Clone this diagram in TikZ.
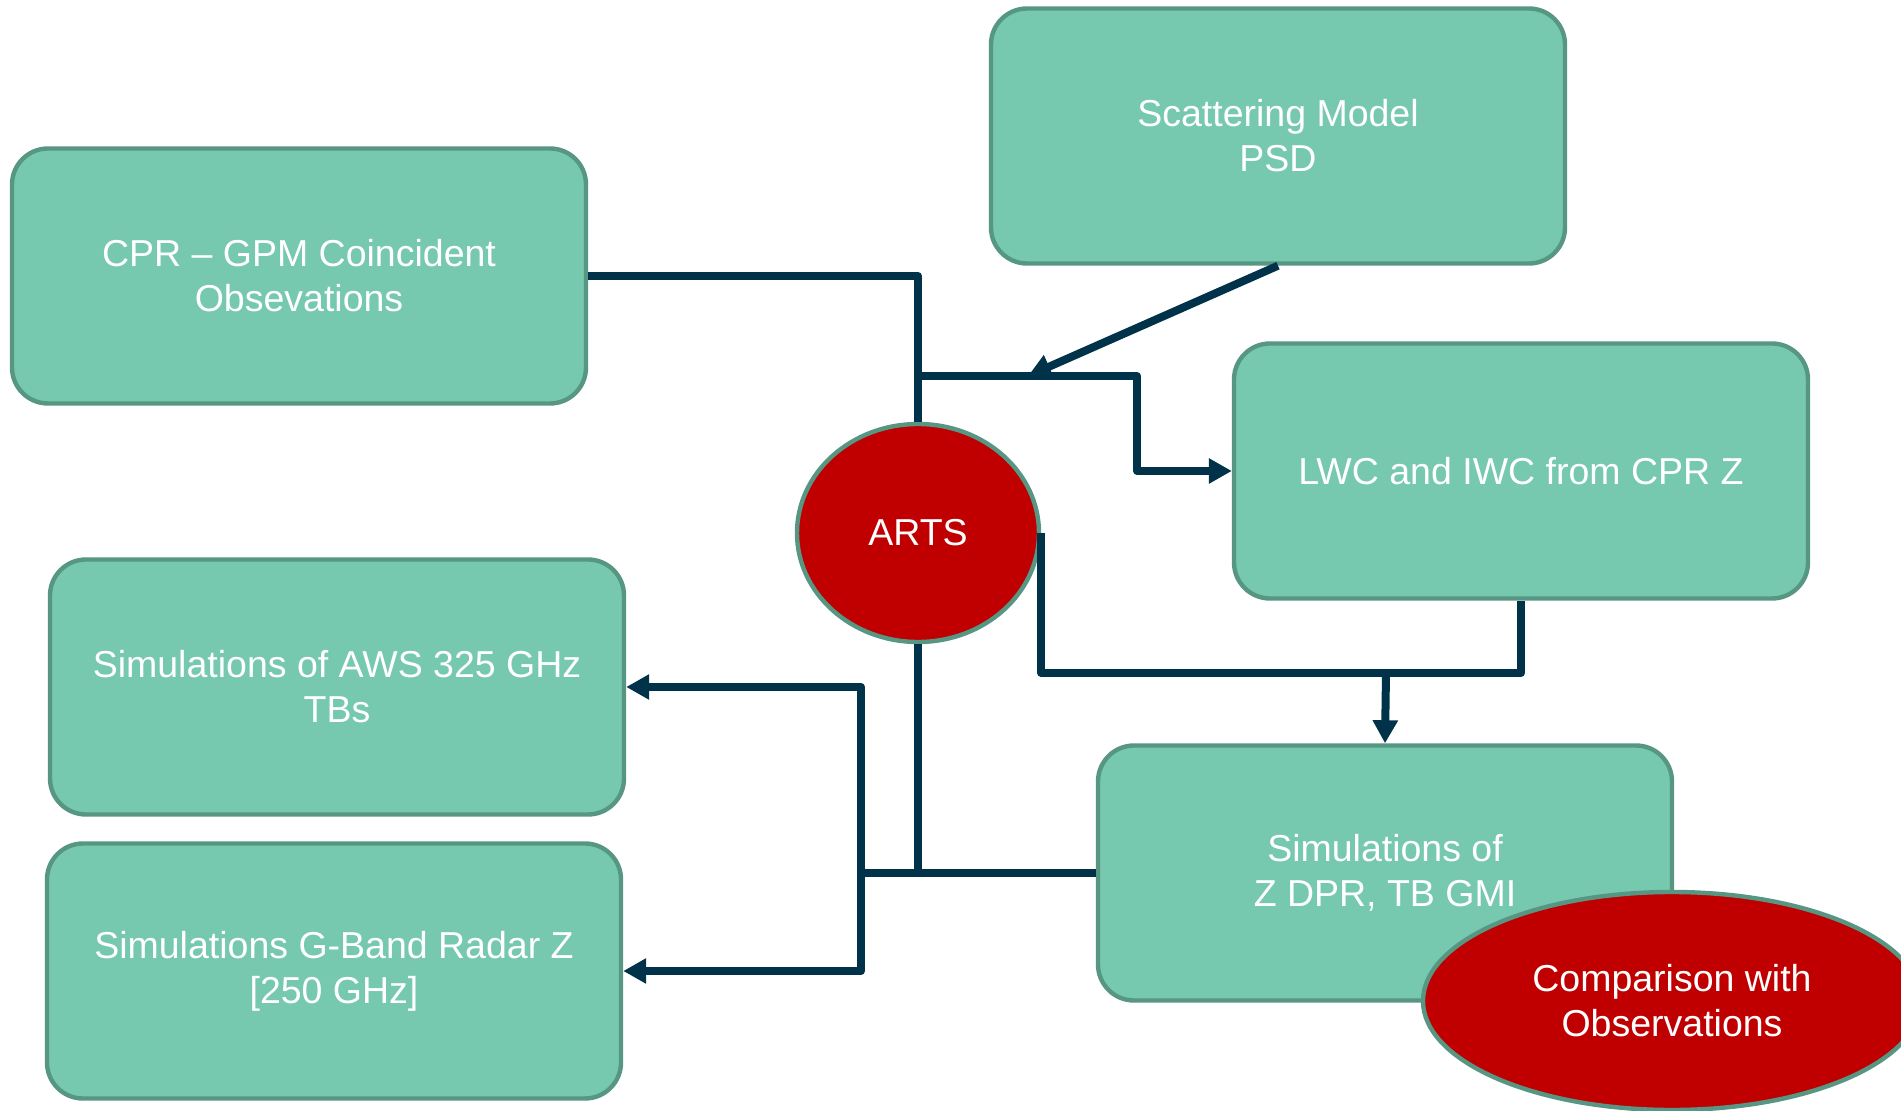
\documentclass[tikz,border=0pt]{standalone}
\usepackage{fontspec}
\setmainfont{Liberation Sans}
\usepackage{tikz}
\usetikzlibrary{positioning, arrows.meta, shapes.geometric}

\definecolor{boxfill}{HTML}{76C8AE}
\definecolor{boxline}{HTML}{579683}
\definecolor{wire}{HTML}{00334A}
\definecolor{hot}{HTML}{C00000}

\begin{document}
\begin{tikzpicture}[
    x=0.5pt, y=-0.5pt,
    box/.style = {draw=boxline, fill=boxfill, line width=2.2pt, rectangle,
                  rounded corners=18pt, align=center, text=white,
                  minimum width=287pt, minimum height=127.5pt,
                  font=\fontsize{18.75}{22.5}\selectfont},
    blob/.style = {draw=boxline, fill=hot, line width=2.2pt, ellipse,
                   inner sep=0pt, align=center, text=white,
                   font=\fontsize{18.75}{22.5}\selectfont},
    link/.style = {draw=wire, line width=4pt, line join=round},
    flow/.style = {link, -{Triangle[length=11.5pt, width=12pt]}}
]
\useasboundingbox (0,0) rectangle (1901,1111);
\clip (0,0) rectangle (1901,1111);

\node[box] (cpr) at (299,276) {CPR – GPM Coincident\\Obsevations};
\node[box] (scat) at (1278,136) {Scattering Model\\PSD};
\node[box] (lwc) at (1521,471) {LWC and IWC from CPR Z};
\node[box] (aws) at (337,687) {Simulations of AWS 325 GHz\\TBs};
\node[box] (gband) at (334,971) {Simulations G-Band Radar Z\\{[250 GHz]}};
\node[box] (sim) at (1385,873) {Simulations of\\Z DPR, TB GMI};
\node[blob, minimum width=121pt, minimum height=109pt] (arts) at (918,533) {ARTS};

% junctions
\coordinate (jtop) at (918,376);
\coordinate (kink) at (1137,376);
\coordinate (stip) at (1028,376);
\coordinate (jlow) at (1386,673);
\coordinate (jleft) at (861,873);

\draw[link] (cpr.east) -| (arts.north);
\draw[flow] (jtop) -- (kink) |- (lwc.west);
\draw[flow] (scat.south) -- (stip);

\draw[link] (arts.east) -- (arts.east |- jlow) -| (lwc.south);
\draw[flow] (jlow) -- (sim.north);

\draw[link] (arts.south) -- (arts.south |- sim.west);
\draw[link] (sim.west) -- (jleft);
\draw[flow] (jleft) |- (aws.east);
\draw[flow] (jleft) |- (gband.east);

\node[blob, minimum width=249pt, minimum height=109pt] (comp) at (1672,1001) {Comparison with\\Observations};
\end{tikzpicture}
\end{document}
